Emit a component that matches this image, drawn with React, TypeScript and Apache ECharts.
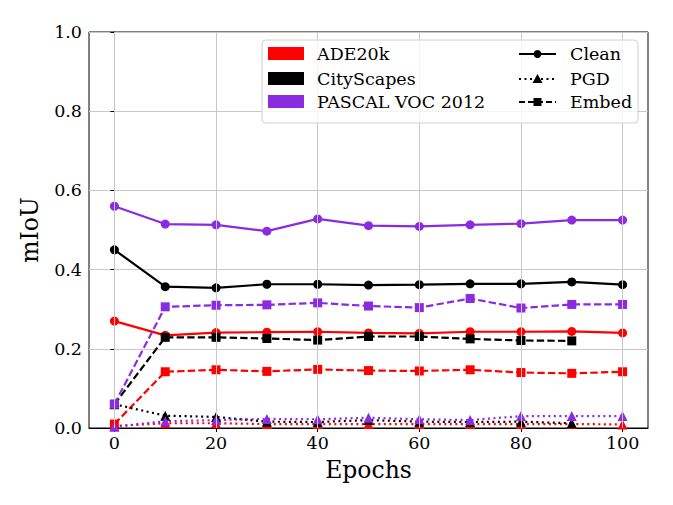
import React, { useEffect, useRef } from "react";
import * as echarts from "echarts";

const epochs = [0, 10, 20, 30, 40, 50, 60, 70, 80, 90, 100];
const epochsCity = [0, 10, 20, 30, 40, 50, 60, 70, 80, 90];

const adeClean = [0.27, 0.234, 0.241, 0.242, 0.243, 0.24, 0.239, 0.243, 0.243, 0.244, 0.24];
const adePgd = [0.005, 0.012, 0.012, 0.01, 0.01, 0.01, 0.01, 0.01, 0.01, 0.01, 0.009];
const adeEmbed = [0.01, 0.142, 0.147, 0.143, 0.148, 0.145, 0.144, 0.147, 0.14, 0.138, 0.142];

const cityClean = [0.45, 0.357, 0.354, 0.363, 0.363, 0.361, 0.362, 0.364, 0.364, 0.369];
const cityCleanLast = 0.362;
const cityPgd = [0.06, 0.031, 0.028, 0.016, 0.015, 0.02, 0.016, 0.015, 0.016, 0.012];
const cityEmbed = [0.06, 0.229, 0.229, 0.226, 0.222, 0.231, 0.231, 0.225, 0.221, 0.22];

const vocClean = [0.56, 0.515, 0.513, 0.497, 0.528, 0.511, 0.509, 0.513, 0.516, 0.525, 0.525];
const vocPgd = [0.003, 0.017, 0.02, 0.023, 0.022, 0.026, 0.022, 0.02, 0.03, 0.03, 0.03];
const vocEmbed = [0.06, 0.306, 0.31, 0.311, 0.316, 0.308, 0.304, 0.327, 0.303, 0.312, 0.312];

const xTicks = [0, 20, 40, 60, 80, 100];
const datasetNames = ["ADE20k", "CityScapes", "PASCAL VOC 2012"];
const styleNames = ["Clean", "PGD", "Embed"];

const RED = "#ff0000";
const BLACK = "#000000";
const PURPLE = "#8a2be2";
const FONT = "DejaVu Serif";
const TICK_FS = 17.5;
const TITLE_FS = 23.5;
const LEGEND_FS = 17.5;

function pairs(xs: number[], ys: number[]) {
  return xs.map((x, i) => [x, ys[i]]);
}

type Kind = "clean" | "pgd" | "embed";
function mkSeries(name: string, color: string, kind: Kind, data: number[][]) {
  const symbol = kind === "clean" ? "circle" : kind === "pgd" ? "triangle" : "rect";
  const size = kind === "clean" ? 9 : kind === "pgd" ? 10 : 9;
  const type = kind === "clean" ? "solid" : kind === "pgd" ? [2, 3.5] : [7.4, 3.2];
  return {
    name,
    type: "line",
    data,
    symbol,
    symbolSize: size,
    showSymbol: true,
    itemStyle: { color, opacity: 1 },
    lineStyle: { color, width: 2.2, type },
    emphasis: { disabled: true },
    z: 3,
  };
}

export default function App() {
  const ref = useRef<HTMLDivElement>(null);
  useEffect(() => {
    if (!ref.current) return;
    const chart = echarts.init(ref.current, undefined, { renderer: "svg" });
    const cityCleanAll = [...cityClean, cityCleanLast];

    const legendX = 262;
    const legendY = 40;
    const rowsY = [54, 79, 102];
    const colors = [RED, BLACK, PURPLE];
    const graphics: any[] = [
      {
        type: "rect",
        shape: { x: legendX, y: legendY, width: 376, height: 83, r: 4 },
        style: { fill: "rgba(255,255,255,0.8)", stroke: "#d0d0d0", lineWidth: 1 },
        z: 100,
      },
    ];
    datasetNames.forEach((n, i) => {
      graphics.push({
        type: "rect",
        shape: { x: 268, y: rowsY[i] - 7, width: 36, height: 13 },
        style: { fill: colors[i] },
        z: 101,
      });
      graphics.push({
        type: "text",
        x: 317,
        y: rowsY[i],
        style: { text: n, fill: "#000", font: `${LEGEND_FS}px "${FONT}"`, textVerticalAlign: "middle" },
        z: 101,
      });
    });
    const dashes: any[] = [null, [2, 3.5], [6, 3]];
    const shapes = ["circle", "triangle", "rect"];
    styleNames.forEach((n, i) => {
      const y = rowsY[i];
      graphics.push({
        type: "line",
        shape: { x1: 519, y1: y, x2: 556, y2: y },
        style: { stroke: "#000", lineWidth: 2, lineDash: dashes[i] },
        z: 101,
      });
      if (shapes[i] === "circle") {
        graphics.push({ type: "circle", shape: { cx: 537.5, cy: y, r: 4 }, style: { fill: "#000" }, z: 102 });
      } else if (shapes[i] === "triangle") {
        graphics.push({
          type: "polygon",
          shape: { points: [[537.5, y - 5], [532.5, y + 4], [542.5, y + 4]] },
          style: { fill: "#000" },
          z: 102,
        });
      } else {
        graphics.push({ type: "rect", shape: { x: 533.5, y: y - 4, width: 8, height: 8 }, style: { fill: "#000" }, z: 102 });
      }
      graphics.push({
        type: "text",
        x: 570,
        y,
        style: { text: n, fill: "#000", font: `${LEGEND_FS}px "${FONT}"`, textVerticalAlign: "middle" },
        z: 101,
      });
    });

    chart.setOption({
      animation: false,
      backgroundColor: "#ffffff",
      textStyle: { fontFamily: FONT },
      grid: {
        left: 89,
        right: 25,
        top: 32,
        bottom: 77,
        show: true,
        borderColor: "#000",
        borderWidth: 1,
        backgroundColor: "transparent",
      },
      xAxis: {
        type: "value",
        min: -5,
        max: 105,
        name: "Epochs",
        nameLocation: "middle",
        nameGap: 30,
        nameTextStyle: { fontFamily: FONT, fontSize: TITLE_FS, color: "#000" },
        axisLine: { show: true, lineStyle: { color: "#000", width: 1 } },
        axisTick: { show: true, customValues: xTicks, length: 4, lineStyle: { color: "#000" } },
        axisLabel: { customValues: xTicks, fontFamily: FONT, fontSize: TICK_FS, color: "#000", margin: 6 },
        splitLine: { show: false },
      },
      yAxis: {
        type: "value",
        min: 0,
        max: 1,
        interval: 0.2,
        name: "mIoU",
        nameLocation: "middle",
        nameGap: 47,
        nameTextStyle: { fontFamily: FONT, fontSize: TITLE_FS, color: "#000" },
        axisLine: { show: true, lineStyle: { color: "#000", width: 1 } },
        axisTick: { show: true, length: 4, lineStyle: { color: "#000" } },
        axisLabel: {
          fontFamily: FONT,
          fontSize: TICK_FS,
          color: "#000",
          margin: 7,
          formatter: (v: number) => v.toFixed(1),
        },
        splitLine: { show: true, lineStyle: { color: "#c8c8c8", width: 1 } },
      },
      graphic: graphics,
      series: [
        {
          name: "vgrid",
          type: "line",
          data: [],
          silent: true,
          markLine: {
            silent: true,
            symbol: "none",
            label: { show: false },
            lineStyle: { color: "#c8c8c8", width: 1, type: "solid" },
            data: xTicks.map((x) => ({ xAxis: x })),
          },
          z: 1,
        },
        mkSeries("ADE20k Clean", RED, "clean", pairs(epochs, adeClean)),
        mkSeries("ADE20k PGD", RED, "pgd", pairs(epochs, adePgd)),
        mkSeries("ADE20k Embed", RED, "embed", pairs(epochs, adeEmbed)),
        mkSeries("CityScapes Clean", BLACK, "clean", pairs(epochs, cityCleanAll)),
        mkSeries("CityScapes PGD", BLACK, "pgd", pairs(epochsCity, cityPgd)),
        mkSeries("CityScapes Embed", BLACK, "embed", pairs(epochsCity, cityEmbed)),
        mkSeries("PASCAL VOC 2012 Clean", PURPLE, "clean", pairs(epochs, vocClean)),
        mkSeries("PASCAL VOC 2012 PGD", PURPLE, "pgd", pairs(epochs, vocPgd)),
        mkSeries("PASCAL VOC 2012 Embed", PURPLE, "embed", pairs(epochs, vocEmbed)),
      ],
    });
    return () => chart.dispose();
  }, []);
  return <div ref={ref} style={{ width: 673, height: 505, position: "absolute", left: 0, top: 0 }} />;
}
